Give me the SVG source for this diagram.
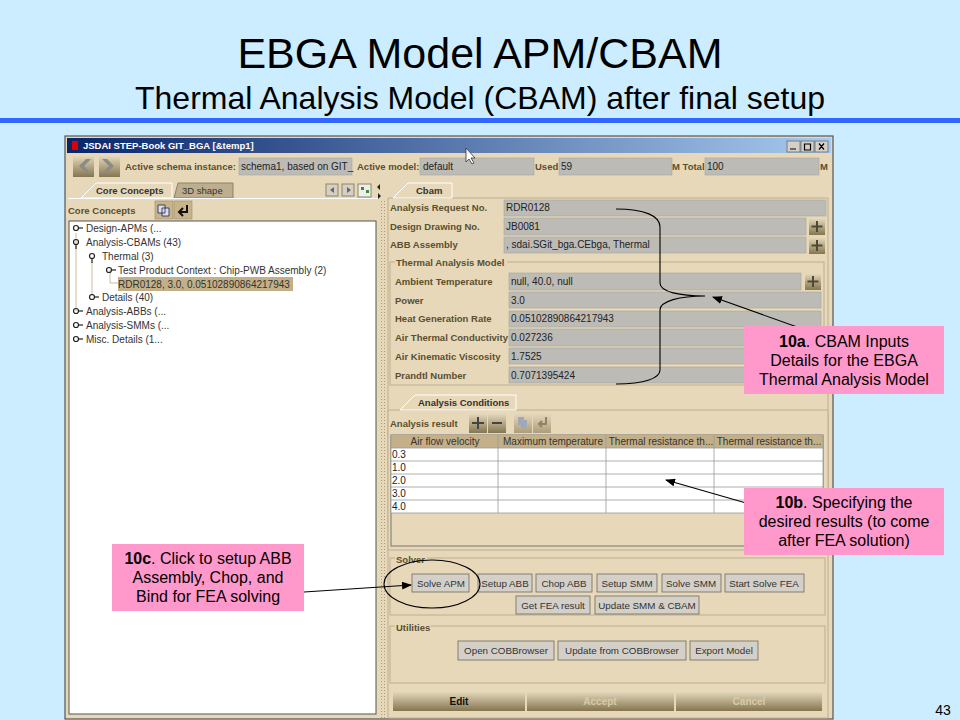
<svg xmlns="http://www.w3.org/2000/svg" width="960" height="720" viewBox="0 0 960 720">
<style>
text{font-family:"Liberation Sans",Arial,sans-serif;fill:#333}
.t{fill:#000}
.c{fill:#000;font-size:16px;text-anchor:middle}
.b{font-size:9.5px;font-weight:bold;fill:#5a4f30}
.v{font-size:10px;fill:#222}
.f{fill:#bdbbb6;stroke:#a8a69f;stroke-width:.6}
.btn{fill:#d4d0c8;stroke:#6f6a60;stroke-width:.8}
.bt{font-size:9.8px;fill:#333;text-anchor:middle}
.g{fill:none;stroke:#bcae8e;stroke-width:1}
.tree{font-size:10px;fill:#333}
.grid{stroke:#9a9a9a;stroke-width:.8;fill:none}
.th{font-size:10px;fill:#333;text-anchor:middle}
.tan{fill:#e6d8b8}
.pl{fill:#4f4a35}
.icon{fill:#c7b48c;stroke:#9c8d6c;stroke-width:.6}
.k{fill:none;stroke:#000;stroke-width:1.1}
.a{fill:none;stroke:#000;stroke-width:1.1;marker-end:url(#ah)}
</style>
<defs>
<linearGradient id="tb" x1="0" x2="1" y1="0" y2="0"><stop offset="0" stop-color="#0a246a"/><stop offset="1" stop-color="#a6caf0"/></linearGradient>
<linearGradient id="gold" x1="0" x2="0" y1="0" y2="1"><stop offset="0" stop-color="#e8dcc0"/><stop offset="1" stop-color="#857650"/></linearGradient>
<marker id="ah" markerWidth="10" markerHeight="8" refX="9" refY="4" orient="auto" markerUnits="userSpaceOnUse"><path d="M0 0L10 4L0 8z" fill="#000"/></marker>
<pattern id="dots" width="3" height="3" patternUnits="userSpaceOnUse"><rect width="3" height="3" fill="#e6d8b8"/><rect width="1" height="1" fill="#a89a78"/></pattern>
</defs>
<rect width="960" height="720" fill="#ccecff"/>
<rect x="0" y="118" width="960" height="5" fill="#3366ff"/>
<text class="t" x="480" y="68" font-size="43" text-anchor="middle">EBGA Model APM/CBAM</text>
<text class="t" x="480" y="109" font-size="32" text-anchor="middle">Thermal Analysis Model (CBAM) after final setup</text>
<text class="t" x="943" y="715" font-size="14" text-anchor="middle">43</text>

<g id="window">
<rect x="65" y="136" width="768" height="583" fill="#e6d8b8" stroke="#555" stroke-width="1.2"/>
<rect x="67" y="138" width="764" height="15" fill="url(#tb)"/>
<rect x="72" y="141" width="6" height="9" fill="#d00"/>
<text x="83" y="149" font-size="9.5" font-weight="bold" style="fill:#fff">JSDAI STEP-Book GIT_BGA [&amp;temp1]</text>
<rect x="787" y="141" width="13" height="11" class="btn"/><rect x="801" y="141" width="13" height="11" class="btn"/><rect x="815" y="141" width="13" height="11" class="btn"/>
<path d="M790 149h6M804.500 144h6v6h-6zM819 143.500l5 6m0-6l-5 6" stroke="#000" fill="none" stroke-width="1.200"/>
<rect x="73" y="155" width="21" height="22" fill="url(#gold)"/><rect x="99" y="155" width="21" height="22" fill="url(#gold)"/>
<path d="M91 159l-7 7 7 7h-5l-7-7 7-7zM102 159l7 7-7 7h5l7-7-7-7z" fill="#8c8c82"/>
<text class="b" x="125" y="170">Active schema instance:</text>
<rect class="f" x="239" y="158" width="113" height="17"/><text class="v" x="241" y="170">schema1, based on GIT_</text>
<text class="b" x="357" y="170">Active model:</text>
<rect class="f" x="420" y="158" width="114" height="17"/><text class="v" x="423" y="170">default</text>
<text class="b" x="535" y="170">Used</text>
<rect class="f" x="559" y="158" width="113" height="17"/><text class="v" x="561" y="170">59</text>
<text class="b" x="672" y="170">M Total</text>
<rect class="f" x="705" y="158" width="114" height="17"/><text class="v" x="707" y="170">100</text>
<text class="b" x="820" y="170">M</text>
<path d="M466 148l0 14 3-3 3 5 2-1-3-5 4 0z" fill="#fff" stroke="#333" stroke-width=".8"/>
</g>

<g id="left-panel">
<path d="M81 198l15-15h76v15z" class="tan" stroke="#fff"/>
<text x="96" y="194" font-size="9.500" font-weight="bold">Core Concepts</text>
<path d="M174 198l4-15h55v15z" fill="#bcae8e" stroke="#8f8365"/>
<text x="182" y="194" font-size="9.500">3D shape</text>
<rect x="326" y="184" width="12" height="12" fill="#d4d0c8" stroke="#8f8365"/><rect x="342" y="184" width="12" height="12" fill="#d4d0c8" stroke="#8f8365"/><rect x="358" y="184" width="13" height="13" fill="#eee" stroke="#8f8365"/>
<path d="M334 187l-4 3 4 3zM347 187l4 3-4 3z" fill="#666"/>
<path d="M361 187h3v3h-3zM366 190h3v3h-3z" fill="#3a8a3a"/>
<path d="M380 184l-3 3 3 3zM378 193l3 3-3 3z" fill="#222"/>
<rect x="68" y="198" width="310" height="1" fill="#fff"/>
<text class="b" x="68" y="214">Core Concepts</text>
<rect x="155" y="201" width="18" height="18" class="icon"/><rect x="174" y="201" width="18" height="18" class="icon"/>
<path d="M158 205h7v8h-7zM162 208h7v8h-7z" fill="#dde" stroke="#224" stroke-width=".800"/>
<path d="M187 205v7h-7m3-4l-4 4 4 4" fill="none" stroke="#111" stroke-width="2"/>
<rect x="69" y="221" width="307" height="493" fill="#fff" stroke="#555"/>
<path d="M76 233V311M92 262V296M110 270V283H118" fill="none" stroke="#c9bd9e"/>
<g fill="none" stroke="#222" stroke-width="1.200">
<circle cx="76" cy="228" r="2.500"/><path d="M78 228h5"/>
<circle cx="76" cy="242" r="2.500"/><path d="M76 244v5"/>
<circle cx="92" cy="256" r="2.500"/><path d="M92 258v5"/>
<circle cx="109" cy="270" r="2.500"/><path d="M111 270h5"/>
<circle cx="92" cy="297" r="2.500"/><path d="M94 297h5"/>
<circle cx="76" cy="311" r="2.500"/><path d="M78 311h5"/>
<circle cx="76" cy="325" r="2.500"/><path d="M78 325h5"/>
<circle cx="76" cy="339" r="2.500"/><path d="M78 339h5"/>
</g>
<rect x="118" y="277" width="175" height="14" fill="#c3b088"/>
<text class="tree" x="86" y="232">Design-APMs (...</text>
<text class="tree" x="86" y="246">Analysis-CBAMs (43)</text>
<text class="tree" x="102" y="260">Thermal (3)</text>
<text class="tree" x="118" y="274">Test Product Context : Chip-PWB Assembly (2)</text>
<text class="tree" x="118" y="288">RDR0128, 3.0, 0.05102890864217943</text>
<text class="tree" x="102" y="301">Details (40)</text>
<text class="tree" x="86" y="315">Analysis-ABBs (...</text>
<text class="tree" x="86" y="329">Analysis-SMMs (...</text>
<text class="tree" x="86" y="343">Misc. Details (1...</text>
</g>

<g id="cbam-panel">
<rect x="379" y="200" width="7" height="518" fill="url(#dots)"/>
<path d="M388 198h440v520H388z" class="tan" stroke="#bcae8e"/>
<path d="M393 198l15-15h44v15z" class="tan" stroke="#fff"/>
<text x="416" y="194" font-size="9.500" font-weight="bold">Cbam</text>
<text class="b" x="390" y="211">Analysis Request No.</text>
<rect class="f" x="504" y="200" width="322" height="16"/><text class="v" x="506" y="211">RDR0128</text>
<text class="b" x="390" y="230">Design Drawing No.</text>
<rect class="f" x="504" y="218" width="302" height="17"/><text class="v" x="506" y="230">JB0081</text>
<text class="b" x="390" y="248">ABB Assembly</text>
<rect class="f" x="504" y="237" width="302" height="16"/><text class="v" x="506" y="248">, sdai.SGit_bga.CEbga, Thermal</text>
<rect x="809" y="218" width="16" height="17" fill="url(#gold)"/><rect x="809" y="237" width="16" height="17" fill="url(#gold)"/>
<path class="pl" d="M816 221h2v4.500h4.500v2H818v4.500h-2v-4.500h-4.500v-2h4.500zM816 240h2v4.500h4.500v2H818v4.500h-2v-4.500h-4.500v-2h4.500z"/>
<rect class="g" x="390" y="262" width="434" height="123"/>
<rect x="395" y="258" width="112" height="8" class="tan"/>
<text class="b" x="396" y="266">Thermal Analysis Model</text>
<text class="b" x="395" y="285">Ambient Temperature</text>
<rect class="f" x="509" y="273" width="292" height="17"/><text class="v" x="511" y="285">null, 40.0, null</text>
<rect x="805" y="273" width="16" height="17" fill="url(#gold)"/><path class="pl" d="M812 276h2v4.500h4.500v2H814v4.500h-2v-4.500h-4.500v-2h4.500z"/>
<text class="b" x="395" y="304">Power</text>
<rect class="f" x="509" y="292" width="312" height="16"/><text class="v" x="511" y="304">3.0</text>
<text class="b" x="395" y="322">Heat Generation Rate</text>
<rect class="f" x="509" y="311" width="312" height="16"/><text class="v" x="511" y="322">0.05102890864217943</text>
<text class="b" x="395" y="341">Air Thermal Conductivity</text>
<rect class="f" x="509" y="329" width="312" height="17"/><text class="v" x="511" y="341">0.027236</text>
<text class="b" x="395" y="360">Air Kinematic Viscosity</text>
<rect class="f" x="509" y="348" width="312" height="16"/><text class="v" x="511" y="360">1.7525</text>
<text class="b" x="395" y="379">Prandtl Number</text>
<rect class="f" x="509" y="367" width="312" height="16"/><text class="v" x="511" y="379">0.7071395424</text>
</g>

<g id="analysis-conditions">
<path d="M388 410h440v140H388z" class="tan" stroke="#bcae8e"/>
<path d="M400 410l15-15h101v15z" class="tan" stroke="#fff"/>
<text x="418" y="406" font-size="9.500" font-weight="bold">Analysis Conditions</text>
<text class="b" x="390" y="427">Analysis result</text>
<rect x="469" y="413" width="18" height="20" fill="url(#gold)"/><rect x="488" y="413" width="18" height="20" fill="url(#gold)"/>
<rect x="514" y="413" width="18" height="20" fill="url(#gold)" opacity=".6"/><rect x="533" y="413" width="18" height="20" fill="url(#gold)" opacity=".6"/>
<path d="M477 417h2v5h5v2h-5v5h-2v-5h-5v-2h5zM492 422h10v2h-10z" fill="#444"/>
<path d="M518 417h6v8h-6zM521 420h6v8h-6z" fill="#9fa8b8"/>
<path d="M546 417v7h-7m3-3l-3 3 3 3" fill="none" stroke="#8c8468" stroke-width="2"/>
<rect x="391" y="435" width="432" height="111" fill="none" stroke="#777"/>
<rect x="391" y="435" width="432" height="13" fill="#c3b088"/>
<rect x="391" y="448" width="432" height="65" fill="#fff"/>
<path class="grid" d="M391 448h432M391 461h432M391 474h432M391 487h432M391 500h432M391 513h432M498 435v78M606 435v78M714 435v78M823 435v78M391 435v78"/>
<text class="th" x="445" y="445">Air flow velocity</text>
<text class="th" x="553" y="445">Maximum temperature</text>
<text class="th" x="661" y="445">Thermal resistance th...</text>
<text class="th" x="769" y="445">Thermal resistance th...</text>
<text class="v" x="392" y="458">0.3</text><text class="v" x="392" y="471">1.0</text><text class="v" x="392" y="484">2.0</text><text class="v" x="392" y="497">3.0</text><text class="v" x="392" y="510">4.0</text>
</g>

<g id="solver">
<rect class="g" x="390" y="558" width="435" height="57"/>
<rect x="395" y="552" width="32" height="10" class="tan"/>
<text class="b" x="396" y="563">Solver</text>
<rect class="btn" x="412" y="574" width="57" height="18"/><text class="bt" x="441" y="587">Solve APM</text>
<rect class="btn" x="478" y="574" width="54" height="18"/><text class="bt" x="505" y="587">Setup ABB</text>
<rect class="btn" x="536" y="574" width="56" height="18"/><text class="bt" x="564" y="587">Chop ABB</text>
<rect class="btn" x="597" y="574" width="60" height="18"/><text class="bt" x="627" y="587">Setup SMM</text>
<rect class="btn" x="662" y="574" width="59" height="18"/><text class="bt" x="691" y="587">Solve SMM</text>
<rect class="btn" x="725" y="574" width="79" height="18"/><text class="bt" x="764" y="587">Start Solve FEA</text>
<rect class="btn" x="516" y="596" width="74" height="18"/><text class="bt" x="553" y="609">Get FEA result</text>
<rect class="btn" x="595" y="596" width="104" height="18"/><text class="bt" x="647" y="609">Update SMM &amp; CBAM</text>
</g>

<g id="utilities">
<rect class="g" x="390" y="626" width="435" height="57"/>
<rect x="395" y="620" width="36" height="10" class="tan"/>
<text class="b" x="396" y="631">Utilities</text>
<rect class="btn" x="458" y="641" width="96" height="19"/><text class="bt" x="506" y="654">Open COBBrowser</text>
<rect class="btn" x="558" y="641" width="128" height="19"/><text class="bt" x="622" y="654">Update from COBBrowser</text>
<rect class="btn" x="690" y="641" width="68" height="19"/><text class="bt" x="724" y="654">Export Model</text>
<rect x="393" y="691" width="132" height="20" fill="url(#gold)"/><rect x="527" y="691" width="147" height="20" fill="url(#gold)"/><rect x="676" y="691" width="146" height="20" fill="url(#gold)"/>
<text x="459" y="705" font-size="10" font-weight="bold" text-anchor="middle" style="fill:#111">Edit</text>
<text x="600" y="705" font-size="10" font-weight="bold" text-anchor="middle" style="fill:#d8cba8">Accept</text>
<text x="749" y="705" font-size="10" font-weight="bold" text-anchor="middle" style="fill:#d8cba8">Cancel</text>
</g>

<g id="connectors">
<path class="k" d="M616 209C645 209 660 216 660 227V283C660 292 680 296 705 296C680 296 660 301 660 310V370C660 378 645 384 616 384"/>
<path class="a" d="M800 328L713 297"/>
<path class="a" d="M753 505L666 480"/>
<path class="a" d="M304 592L411 585"/>
<ellipse cx="432" cy="584" rx="48" ry="24" class="k"/>
</g>

<g id="note-10a"><rect x="744" y="326" width="200" height="68" fill="#ff99cc"/>
<text class="c" x="844" y="347"><tspan font-weight="bold">10a</tspan>. CBAM Inputs</text>
<text class="c" x="844" y="366">Details for the EBGA</text>
<text class="c" x="844" y="385">Thermal Analysis Model</text></g>
<g id="note-10b"><rect x="744" y="488" width="200" height="67" fill="#ff99cc"/>
<text class="c" x="844" y="508"><tspan font-weight="bold">10b</tspan>. Specifying the</text>
<text class="c" x="844" y="527">desired results (to come</text>
<text class="c" x="844" y="546">after FEA solution)</text></g>
<g id="note-10c"><rect x="112" y="544" width="192" height="67" fill="#ff99cc"/>
<text class="c" x="208" y="564"><tspan font-weight="bold">10c</tspan>. Click to setup ABB</text>
<text class="c" x="208" y="583">Assembly, Chop, and</text>
<text class="c" x="208" y="602">Bind for FEA solving</text></g>
</svg>
